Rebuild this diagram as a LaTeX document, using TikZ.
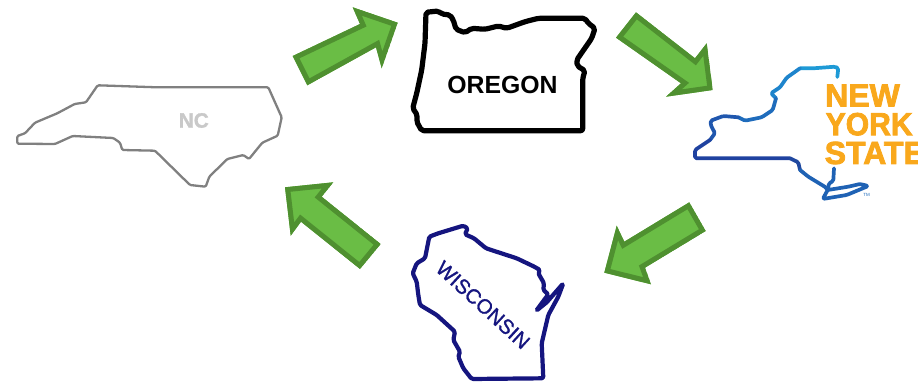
\documentclass[tikz,border=0pt]{standalone}
\usepackage{fontspec}
\setmainfont{Liberation Sans}
\newfontfamily\nyfont[FakeBold=2.5]{Liberation Sans Bold}
\newfontfamily\wifont[FakeBold=1.2]{Liberation Sans}
\newfontfamily\ncfont[FakeBold=1.5]{Liberation Sans Bold}
\definecolor{garrow}{HTML}{6ABD45}
\definecolor{garrowd}{HTML}{4F9030}
\definecolor{nygold}{HTML}{F9A81C}
\definecolor{wiblue}{HTML}{15157F}
\newcommand{\greenarrow}[1]{\begin{scope}\clip #1;\path[fill=garrow,draw=garrowd,line width=10pt,line join=miter] #1;\end{scope}}
\tikzset{
  ncline/.style={draw=black!50,line width=2.3pt,line join=round,rounded corners=1.2pt},
  orline/.style={draw=black,line width=5.2pt,line join=round,rounded corners=2pt},
  wiline/.style={draw=wiblue,line width=4.2pt,line join=round,rounded corners=1.5pt},
  nyline/.style={line width=3.7pt,line cap=round,line join=round,rounded corners=1.5pt},
  statetext/.style={inner sep=0pt,anchor=center},
  nytext/.style={inner sep=0pt,anchor=base west,text=nygold,font=\fontsize{32}{32}\selectfont\nyfont}
}
\begin{document}
\begin{tikzpicture}[x=1pt,y=-1pt]
\useasboundingbox (0,0) rectangle (918,382);
\clip (0,0) rectangle (918,382);
% North Carolina
\path[ncline] (97.7,85.3) -- (156.7,87.3) -- (268.3,87.3) -- (281.7,117.3) -- (277.7,135.7) -- (262.3,142.7) -- (249,159) -- (243.3,155) -- (227.3,159) -- (209.3,176.7) -- (205.7,186.7) -- (190,185) -- (155,150.7) -- (122.3,150) -- (120,142.7) -- (113.3,138) -- (72.7,136) -- (55,144) -- (17.3,143.7) -- (17.3,136) -- (25,133.3) -- (35,122.7) -- (57.3,113.3) -- (74.7,104) -- (86,102.3) -- cycle;
\node[statetext,text=black!21,font=\fontsize{20.8}{20.8}\selectfont\ncfont] (nc) at (193.8,120.5) {NC};
% Oregon
\path[orline] (426,12.3) -- (438.3,11) -- (441.7,14) -- (450,15) -- (453.3,20) -- (456,29.3) -- (465,32.7) -- (471.7,28.3) -- (485,29.3) -- (498.3,26) -- (506.7,28.3) -- (525,21.7) -- (538.3,18.3) -- (585,18.3) -- (588.3,23.3) -- (595,28.3) -- (591.7,38.3) -- (576.7,60) -- (577.3,66) -- (585,70.7) -- (582.7,78.3) -- (582.7,130.7) -- (421.7,130.7) -- (416.7,121.7) -- (417.3,115) -- (412.7,108.3) -- (416.7,93.3) -- (421.7,70) -- (425,43.3) -- cycle;
\node[statetext,text=black,font=\fontsize{24.8}{24.8}\selectfont\bfseries] (oregon) at (502.5,85) {OREGON};
% New York outline, light to dark
\definecolor{ny1}{HTML}{1E9AD6}
\definecolor{ny2}{HTML}{1E84CC}
\definecolor{ny3}{HTML}{1F6CBC}
\definecolor{ny4}{HTML}{2057AE}
\definecolor{ny5}{HTML}{1F42A0}
\definecolor{ny6}{HTML}{20489F}
\definecolor{ny7}{HTML}{1F62B4}
\path[nyline,draw=ny1] (837.3,77) -- (838.3,68.3) -- (835,66.7) -- (813.3,68.3) -- (800,68.3);
\path[nyline,draw=ny2] (800,68.3) -- (786.7,77.7) -- (780,87.3) -- (771,93.3) -- (776,98.3);
\path[nyline,draw=ny3] (776,98.3) -- (772.7,110) -- (761.7,117.3) -- (745,120.7) -- (738.3,117.3);
\path[nyline,draw=ny4] (738.3,117.3) -- (723.3,116) -- (710.7,120.7) -- (710.7,125) -- (715,133.3) -- (710,140);
\path[nyline,draw=ny5] (710,140) -- (695,150) -- (695,158.3) -- (790,158.3);
\path[nyline,draw=ny6] (790,158.3) -- (798.3,162.3) -- (800,170);
\path[nyline,draw=ny7] (800,170) -- (808.3,176.7) -- (825.7,187.3) -- (827.7,190);
\path[nyline,draw=ny7] (834,168.3) -- (833.3,181) -- (829,183.3) -- (827.7,190) -- (822.7,199) -- (846.7,195) -- (868.3,186) -- (860,184) -- (848.3,186.7) -- (827.7,190);
\node[nytext] (ny1t) at (825,106.5) {NEW};
\node[nytext,xscale=0.94] (ny2t) at (825.5,135.2) {YORK};
\node[nytext] (ny3t) at (824.5,164) {STATE};
\node[statetext,text=ny3,font=\fontsize{4.5}{4.5}\selectfont] (tm) at (866.7,194.5) {TM};
% Wisconsin
\path[wiline] (429.3,236.7) -- (438.3,233.3) -- (463.3,225.7) -- (467.7,228.3) -- (465,234.3) -- (474,238.3) -- (486,248.3) -- (516.7,258.3) -- (534.3,266.7) -- (540,270) -- (538.3,273.3) -- (544,283.3) -- (543.3,290) -- (548.3,294.3) -- (536,311) -- (546.7,302.3) -- (563.3,283.3) -- (558.3,296.7) -- (548.3,315) -- (541.7,343.3) -- (543.3,378.3) -- (471.7,379) -- (463.3,368.3) -- (458.3,356.7) -- (460,351.7) -- (453.3,340) -- (455,331.7) -- (436.7,315) -- (420,305) -- (418.3,295) -- (416.7,281.7) -- (412.7,273.3) -- (416.7,263.3) -- (425,258.3) -- cycle;
\node[statetext,text=wiblue,rotate=-42.5,font=\fontsize{20.5}{20.5}\selectfont\wifont] (wisconsin) at (483,305) {WISCONSIN};
% Arrows
\greenarrow{(292.7,56) -- (307.3,85.3) -- (376,47.3) -- (381.7,68.3) -- (397.7,22.7) -- (352.7,7.3) -- (360,24) -- cycle}
\greenarrow{(616,37.7) -- (636,12.3) -- (695,58.3) -- (706.7,43.3) -- (712.7,90) -- (666,96.7) -- (681,83.3) -- cycle}
\greenarrow{(689.3,202.3) -- (705.7,231) -- (645,267.7) -- (651,284.3) -- (604.3,272.7) -- (616.7,225.7) -- (624.3,241.7) -- cycle}
\greenarrow{(285,187.3) -- (333.3,182.3) -- (321.7,196.7) -- (380.7,244) -- (360,269) -- (301,221.7) -- (290.7,235.7) -- cycle}
\end{tikzpicture}
\end{document}
